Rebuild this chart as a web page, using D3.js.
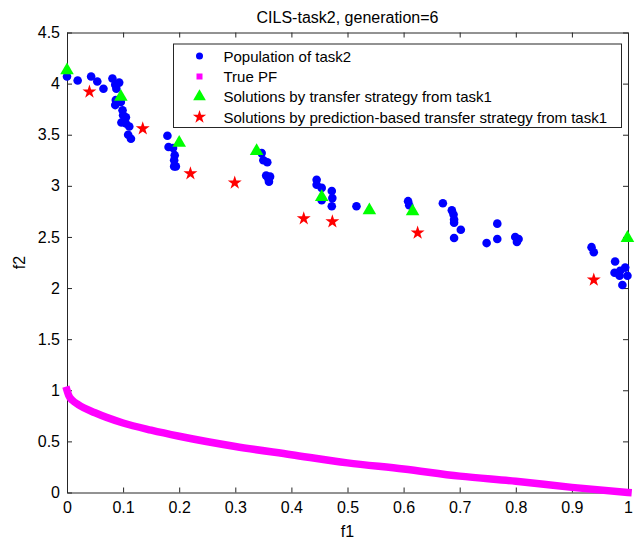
<!DOCTYPE html>
<html>
<head>
  <meta charset="UTF-8">
  <style>
    body { margin: 0; background: #fff; }
    text { font-family: "Liberation Sans", Arial, sans-serif; }
  </style>
</head>
<body>
<script src="https://d3js.org/d3.v7.min.js"></script>
<div id="my_dataviz"></div>
<script>

// population of task2 (f1, f2)
var popF1 = [0.000, 0.019, 0.043, 0.054, 0.065, 0.081, 0.086, 0.093, 0.088, 0.087, 0.086,
  0.096, 0.099, 0.100, 0.105, 0.097, 0.105, 0.111, 0.109, 0.114,
  0.179, 0.181, 0.189, 0.192, 0.191, 0.194, 0.191,
  0.347, 0.350, 0.357, 0.355, 0.359, 0.360, 0.362,
  0.445, 0.445, 0.454, 0.472, 0.473, 0.472, 0.454,
  0.516, 0.608, 0.610,
  0.670, 0.686, 0.689, 0.690, 0.690, 0.702, 0.690,
  0.748, 0.767, 0.767, 0.799, 0.805, 0.802,
  0.935, 0.939, 0.977, 0.976, 0.986, 0.995, 0.985, 0.999, 0.990];
var popF2 = [4.07, 4.03, 4.07, 4.02, 3.95, 4.05, 3.99, 4.01, 3.95, 3.84, 3.79,
  3.82, 3.74, 3.69, 3.67, 3.62, 3.61, 3.58, 3.50, 3.46,
  3.49, 3.38, 3.37, 3.30, 3.25, 3.19, 3.19,
  3.32, 3.25, 3.23, 3.10, 3.07, 3.04, 3.09,
  3.06, 3.01, 2.98, 2.95, 2.88, 2.80, 2.86,
  2.80, 2.85, 2.81,
  2.83, 2.76, 2.72, 2.67, 2.64, 2.57, 2.49,
  2.44, 2.63, 2.48, 2.50, 2.48, 2.45,
  2.40, 2.35, 2.26, 2.15, 2.17, 2.20, 2.12, 2.12, 2.03];

// true PF
var pfF1 = [0, 0.003, 0.01, 0.02, 0.05, 0.1, 0.15, 0.2, 0.3, 0.4, 0.5, 0.6, 0.7, 0.8, 0.9, 1.0];
var pfF2 = [1.0, 0.95, 0.90, 0.86, 0.78, 0.68, 0.61, 0.55, 0.45, 0.37, 0.29, 0.23, 0.16, 0.11, 0.05, 0.0];

// solutions by transfer strategy
var trF1 = [0.000, 0.096, 0.200, 0.338, 0.454, 0.539, 0.616, 0.999];
var trF2 = [4.13, 3.87, 3.42, 3.34, 2.89, 2.76, 2.75, 2.49];

// solutions by prediction-based transfer strategy
var prF1 = [0.040, 0.135, 0.220, 0.299, 0.422, 0.473, 0.625, 0.939];
var prF2 = [3.92, 3.56, 3.12, 3.03, 2.68, 2.65, 2.54, 2.08];

var xTicks = [0, 0.1, 0.2, 0.3, 0.4, 0.5, 0.6, 0.7, 0.8, 0.9, 1];
var yTicks = [0, 0.5, 1, 1.5, 2, 2.5, 3, 3.5, 4, 4.5];

var legendLabels = ["Population of task2", "True PF",
  "Solutions by transfer strategy from task1",
  "Solutions by prediction-based transfer strategy from task1"];

var margin = {top: 32.5, right: 10, bottom: 46.5, left: 67},
  width = 638 - margin.left - margin.right,
  height = 539 - margin.top - margin.bottom;

var svg = d3.select("#my_dataviz")
  .append("svg")
    .attr("width", 638)
    .attr("height", 539)
  .append("g")
    .attr("transform", "translate(" + margin.left + "," + margin.top + ")");

var x = d3.scaleLinear().domain([0, 1]).range([0, width]);
var y = d3.scaleLinear().domain([0, 4.5]).range([height, 0]);

var zip = function(a, b) { return a.map(function(v, i) { return [v, b[i]]; }); };

// axes (box with inward ticks)
var axisColor = "#262626";
function styleAxis(g) {
  g.selectAll("path").attr("stroke", axisColor);
  g.selectAll("line").attr("stroke", axisColor);
  g.selectAll("text").attr("fill", "#000").style("font-size", "16px")
    .style("font-family", "Liberation Sans, Arial, sans-serif");
}
svg.append("g").attr("transform", "translate(0," + height + ")")
  .call(d3.axisBottom(x).tickValues(xTicks).tickFormat(d3.format("")).tickSizeInner(-5).tickSizeOuter(0).tickPadding(9))
  .call(styleAxis);
svg.append("g")
  .call(d3.axisLeft(y).tickValues(yTicks).tickFormat(d3.format("")).tickSizeInner(-5).tickSizeOuter(0).tickPadding(7))
  .call(styleAxis);
svg.append("g")
  .call(d3.axisTop(x).tickValues(xTicks).tickFormat("").tickSizeInner(-5).tickSizeOuter(0))
  .call(styleAxis);
svg.append("g").attr("transform", "translate(" + width + ",0)")
  .call(d3.axisRight(y).tickValues(yTicks).tickFormat("").tickSizeInner(-5).tickSizeOuter(0))
  .call(styleAxis);
svg.selectAll(".domain").attr("stroke-width", 1);

// population
svg.append("g")
  .selectAll("circle")
  .data(zip(popF1, popF2))
  .enter()
  .append("circle")
    .attr("cx", function(d) { return x(d[0]); })
    .attr("cy", function(d) { return y(d[1]); })
    .attr("r", 4.3)
    .style("fill", "#0000ff");

// true PF
svg.append("path")
  .datum(zip(pfF1, pfF2))
  .attr("d", d3.line().x(function(d) { return x(d[0]); }).y(function(d) { return y(d[1]); }).curve(d3.curveMonotoneX))
  .attr("fill", "none")
  .attr("stroke", "#ff00ff")
  .attr("stroke-width", 7.5)
  .attr("stroke-linecap", "square");

var triSym = d3.symbol().type(d3.symbolTriangle).size(80);
var starSym = d3.symbol().type(d3.symbolStar).size(60);

svg.append("g")
  .selectAll("path")
  .data(zip(trF1, trF2))
  .enter()
  .append("path")
    .attr("d", triSym)
    .attr("transform", function(d) { return "translate(" + x(d[0]) + "," + y(d[1]) + ")"; })
    .style("fill", "#00ff00");

svg.append("g")
  .selectAll("path")
  .data(zip(prF1, prF2))
  .enter()
  .append("path")
    .attr("d", starSym)
    .attr("transform", function(d) { return "translate(" + x(d[0]) + "," + y(d[1]) + ")"; })
    .style("fill", "#ff0000");

// legend
var lg = svg.append("g").attr("transform", "translate(" + (173.5 - margin.left) + "," + (44 - margin.top) + ")");
lg.append("rect")
  .attr("width", 448).attr("height", 83.5)
  .attr("fill", "#fff").attr("stroke", axisColor);
var rowY = [12, 32.5, 52.5, 73];
lg.append("circle").attr("cx", 26).attr("cy", rowY[0]).attr("r", 3.5).style("fill", "#0000ff");
lg.append("rect").attr("x", 23).attr("y", rowY[1] - 3).attr("width", 6).attr("height", 6).style("fill", "#ff00ff");
lg.append("path").attr("d", d3.symbol().type(d3.symbolTriangle).size(70))
  .attr("transform", "translate(26," + rowY[2] + ")").style("fill", "#00ff00");
lg.append("path").attr("d", d3.symbol().type(d3.symbolStar).size(55))
  .attr("transform", "translate(26," + rowY[3] + ")").style("fill", "#ff0000");
lg.selectAll("text.lbl")
  .data(legendLabels)
  .enter()
  .append("text")
    .attr("x", 50)
    .attr("y", function(d, i) { return rowY[i]; })
    .attr("dominant-baseline", "central")
    .style("font-size", "15px")
    .text(function(d) { return d; });

// title and axis labels
svg.append("text")
  .attr("x", width / 2).attr("y", -10)
  .attr("text-anchor", "middle")
  .style("font-size", "16px")
  .text("CILS-task2, generation=6");
svg.append("text")
  .attr("x", width / 2).attr("y", height + 44)
  .attr("text-anchor", "middle")
  .style("font-size", "16px")
  .text("f1");
svg.append("text")
  .attr("transform", "translate(" + (-42) + "," + (height / 2) + ") rotate(-90)")
  .attr("text-anchor", "middle")
  .style("font-size", "16px")
  .text("f2");

</script>
</body>
</html>
